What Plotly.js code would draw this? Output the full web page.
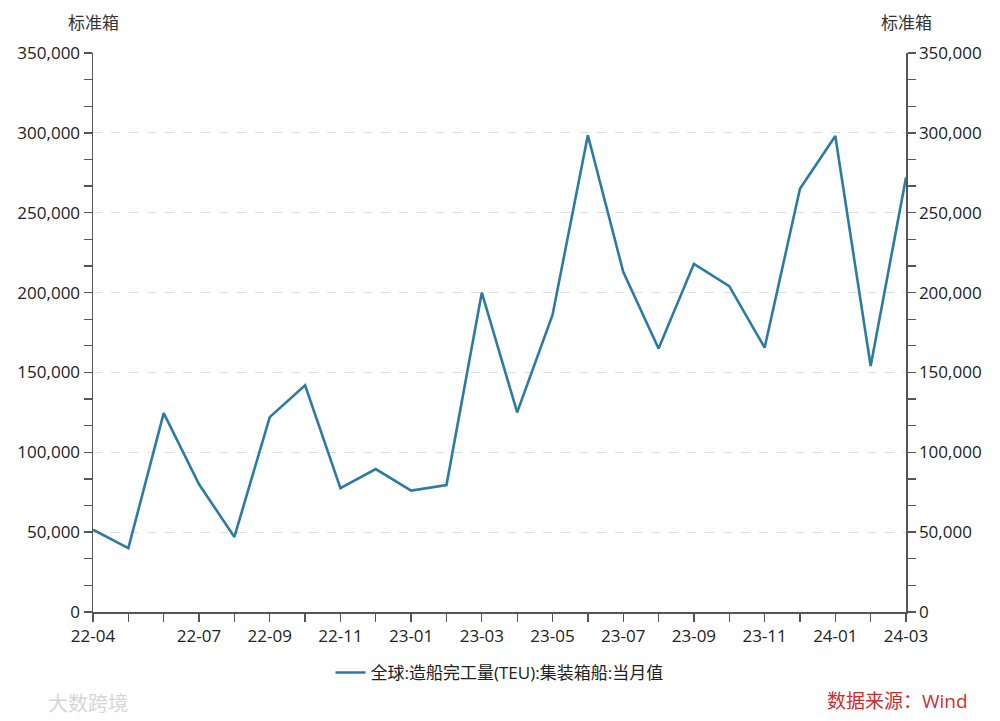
<!DOCTYPE html>
<html>
<head>
<meta charset="utf-8">
<script src="https://cdn.plot.ly/plotly-3.0.1.min.js"></script>
<style>html,body{margin:0;padding:0;background:#fff;}#chart{width:1000px;height:721px;}</style>
</head>
<body>
<div id="chart"></div>
<script>
const months = ["22-04","22-05","22-06","22-07","22-08","22-09","22-10","22-11","22-12",
  "23-01","23-02","23-03","23-04","23-05","23-06","23-07","23-08","23-09","23-10","23-11","23-12",
  "24-01","24-02","24-03"];
const values = [51500,40000,124500,80000,47000,122000,142000,77500,89500,
  76000,79500,200000,125000,186000,298500,213000,165000,218000,204000,165500,265000,
  298000,154000,272000];
const labeledMonths = ["22-04","22-07","22-09","22-11","23-01","23-03","23-05","23-07","23-09","23-11","24-01","24-03"];
const seriesName = "全球:造船完工量(TEU):集装箱船:当月值";
const unitLabel = "标准箱";
const sourceText = "数据来源：Wind";
const watermark = "大数跨境";

const idx = months.map((m,i)=>i);
const tickText = months.map(m => labeledMonths.includes(m) ? m : "");
const font = "Open Sans, Noto Sans CJK SC, sans-serif";
const axisColor = "#555";

const yCommon = {
  range:[0,350000], dtick:50000, tick0:0, tickformat:",d",
  ticks:"outside", ticklen:8, tickwidth:1.3, tickcolor:axisColor,
  showline:true, linecolor:axisColor, linewidth:1.5,
  tickfont:{family:font,size:17,color:"#222"},
  minor:{dtick:50000/3, ticks:"outside", ticklen:8, tickwidth:1.3, tickcolor:axisColor, showgrid:false},
  zeroline:false, fixedrange:true
};

const data = [
  {x: idx, y: values, type:"scatter", mode:"lines", name: seriesName,
   line:{color:"#2b7ba4", width:2.6}, yaxis:"y"},
  {x: idx, y: values, type:"scatter", mode:"lines", showlegend:false, hoverinfo:"skip",
   line:{color:"rgba(0,0,0,0)", width:0}, yaxis:"y2"}
];

const layout = {
  width:1000, height:721,
  margin:{l:93, r:94, t:53, b:109},
  paper_bgcolor:"#fff", plot_bgcolor:"#fff",
  font:{family:font, color:"#222"},
  xaxis:{
    range:[0,23], tickvals: idx, ticktext: tickText,
    ticks:"outside", ticklen:8, tickwidth:1.3, tickcolor:axisColor,
    showline:true, linecolor:axisColor, linewidth:1.5, showgrid:false, zeroline:false,
    tickfont:{family:font,size:17,color:"#222"}, tickangle:0
  },
  yaxis: Object.assign({}, yCommon, {
    side:"left", showgrid:true, gridcolor:"#dedede", griddash:"dash", gridwidth:1
  }),
  yaxis2: Object.assign({}, yCommon, {
    side:"right", overlaying:"y", showgrid:false
  }),
  showlegend:true,
  legend:{orientation:"h", x:0.5, xanchor:"center", y:-0.109, yanchor:"middle",
    font:{family:font,size:17,color:"#222"}, bgcolor:"rgba(0,0,0,0)"},
  annotations:[
    {text:unitLabel, xref:"paper", yref:"paper", x:0, y:1, yshift:31,
     showarrow:false, xanchor:"center", yanchor:"middle", font:{family:font,size:17,color:"#333"}},
    {text:unitLabel, xref:"paper", yref:"paper", x:1, y:1, yshift:31,
     showarrow:false, xanchor:"center", yanchor:"middle", font:{family:font,size:17,color:"#333"}},
    {text:sourceText, xref:"paper", yref:"paper", x:1, xshift:64, y:0, yshift:-89,
     showarrow:false, xanchor:"right", yanchor:"middle", font:{family:font,size:19,color:"#d22b2b"}},
    {text:watermark, xref:"paper", yref:"paper", x:0, xshift:-47, y:0, yshift:-91,
     showarrow:false, xanchor:"left", yanchor:"middle", font:{family:font,size:20,color:"#d6d6d6"}}
  ]
};

Plotly.newPlot("chart", data, layout, {displayModeBar:false, staticPlot:true});
</script>
</body>
</html>
